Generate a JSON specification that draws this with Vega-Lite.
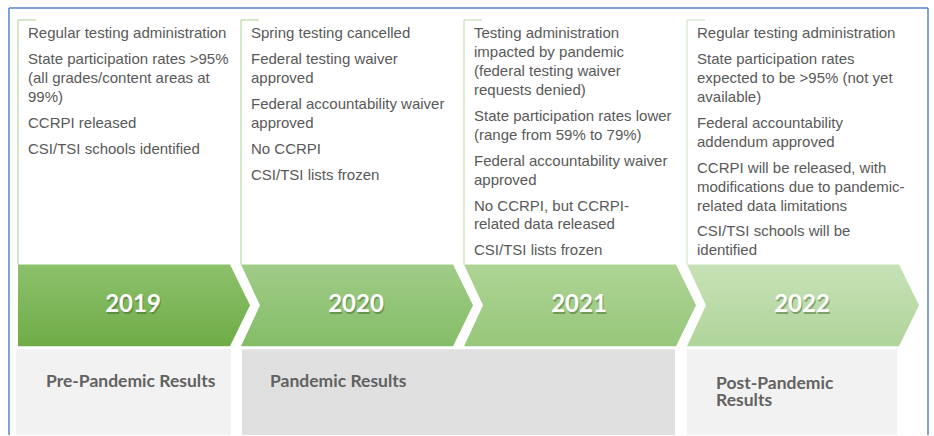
{
  "$schema": "https://vega.github.io/schema/vega-lite/v6.json",
  "width": 934,
  "height": 436,
  "autosize": {"type": "fit", "contains": "padding"},
  "padding": 0,
  "background": "white",
  "config": {"view": {"stroke": null}, "axis": {"disable": true}},
  "datasets": {
    "border": [
      {"x": 2018.9596, "x2": 2018.9596, "y": 8, "y2": 436},
      {"x": 2018.9596, "x2": 2023.0807, "y": 8, "y2": 8},
      {"x": 2023.0807, "x2": 2023.0807, "y": 8, "y2": 436}
    ],
    "boxes": [
      {"period": "pre", "x": 2018.991, "x2": 2019.955, "y": 350, "y2": 436},
      {"period": "pan", "x": 2020.0045, "x2": 2021.946, "y": 350, "y2": 436},
      {"period": "post", "x": 2022.0, "x2": 2022.942, "y": 350, "y2": 436}
    ],
    "chev": [
      {"year": "2019", "y": 265, "xl": 2019.0, "xr": 2019.9507},
      {"year": "2019", "y": 306, "xl": 2019.0, "xr": 2020.0404},
      {"year": "2019", "y": 347, "xl": 2019.0, "xr": 2019.9507},
      {"year": "2020", "y": 265, "xl": 2020.0, "xr": 2020.9507},
      {"year": "2020", "y": 306, "xl": 2020.0852, "xr": 2021.0404},
      {"year": "2020", "y": 347, "xl": 2020.0, "xr": 2020.9507},
      {"year": "2021", "y": 265, "xl": 2021.0, "xr": 2021.9507},
      {"year": "2021", "y": 306, "xl": 2021.0852, "xr": 2022.0404},
      {"year": "2021", "y": 347, "xl": 2021.0, "xr": 2021.9507},
      {"year": "2022", "y": 265, "xl": 2022.0, "xr": 2022.9507},
      {"year": "2022", "y": 306, "xl": 2022.0852, "xr": 2023.0404},
      {"year": "2022", "y": 347, "xl": 2022.0, "xr": 2022.9507}
    ],
    "frames": [
      {"year": "2019", "x": 2019.0, "x2": 2019.0, "y": 20, "y2": 265},
      {"year": "2019", "x": 2019.0, "x2": 2019.0807, "y": 20, "y2": 20},
      {"year": "2020", "x": 2020.0, "x2": 2020.0, "y": 20, "y2": 265},
      {"year": "2020", "x": 2020.0, "x2": 2020.0807, "y": 20, "y2": 20},
      {"year": "2021", "x": 2021.0, "x2": 2021.0, "y": 20, "y2": 265},
      {"year": "2021", "x": 2021.0, "x2": 2021.0807, "y": 20, "y2": 20},
      {"year": "2022", "x": 2022.0, "x2": 2022.0, "y": 20, "y2": 265},
      {"year": "2022", "x": 2022.0, "x2": 2022.0807, "y": 20, "y2": 20}
    ],
    "years": [
      {"year": "2019", "x": 2019.0, "y": 306},
      {"year": "2020", "x": 2020.0, "y": 306},
      {"year": "2021", "x": 2021.0, "y": 306},
      {"year": "2022", "x": 2022.0, "y": 306}
    ],
    "notes": [
      {"x": 2019, "y": 33, "text": "Regular testing administration"},
      {"x": 2019, "y": 59, "text": "State participation rates >95%"},
      {"x": 2019, "y": 78, "text": "(all grades/content areas at"},
      {"x": 2019, "y": 97, "text": "99%)"},
      {"x": 2019, "y": 123, "text": "CCRPI released"},
      {"x": 2019, "y": 149, "text": "CSI/TSI schools identified"},
      {"x": 2020, "y": 33, "text": "Spring testing cancelled"},
      {"x": 2020, "y": 59, "text": "Federal testing waiver"},
      {"x": 2020, "y": 78, "text": "approved"},
      {"x": 2020, "y": 104, "text": "Federal accountability waiver"},
      {"x": 2020, "y": 123, "text": "approved"},
      {"x": 2020, "y": 149, "text": "No CCRPI"},
      {"x": 2020, "y": 175, "text": "CSI/TSI lists frozen"},
      {"x": 2021, "y": 33, "text": "Testing administration"},
      {"x": 2021, "y": 52, "text": "impacted by pandemic"},
      {"x": 2021, "y": 71, "text": "(federal testing waiver"},
      {"x": 2021, "y": 90, "text": "requests denied)"},
      {"x": 2021, "y": 116, "text": "State participation rates lower"},
      {"x": 2021, "y": 135, "text": "(range from 59% to 79%)"},
      {"x": 2021, "y": 161, "text": "Federal accountability waiver"},
      {"x": 2021, "y": 180, "text": "approved"},
      {"x": 2021, "y": 206, "text": "No CCRPI, but CCRPI-"},
      {"x": 2021, "y": 225, "text": "related data released"},
      {"x": 2021, "y": 251, "text": "CSI/TSI lists frozen"},
      {"x": 2022, "y": 33, "text": "Regular testing administration"},
      {"x": 2022, "y": 59, "text": "State participation rates"},
      {"x": 2022, "y": 78, "text": "expected to be >95% (not yet"},
      {"x": 2022, "y": 97, "text": "available)"},
      {"x": 2022, "y": 123, "text": "Federal accountability"},
      {"x": 2022, "y": 142, "text": "addendum approved"},
      {"x": 2022, "y": 168, "text": "CCRPI will be released, with"},
      {"x": 2022, "y": 187, "text": "modifications due to pandemic-"},
      {"x": 2022, "y": 206, "text": "related data limitations"},
      {"x": 2022, "y": 232, "text": "CSI/TSI schools will be"},
      {"x": 2022, "y": 251, "text": "identified"}
    ],
    "periods": [
      {"x": 2018.9955, "y": 383, "text": "Pre-Pandemic Results"},
      {"x": 2020.0, "y": 383, "text": "Pandemic Results"},
      {"x": 2022.0, "y": 385, "text": "Post-Pandemic"},
      {"x": 2022.0, "y": 402, "text": "Results"}
    ]
  },
  "layer": [
    {
      "data": {"name": "boxes"},
      "mark": {"type": "rect"},
      "encoding": {
        "x": {"field": "x", "type": "quantitative", "scale": {"domain": [2018.91928, 2023.10762], "nice": false, "zero": false}, "axis": null},
        "x2": {"field": "x2"},
        "y": {"field": "y", "type": "quantitative", "scale": {"domain": [0, 436], "reverse": true, "nice": false, "zero": false}, "axis": null},
        "y2": {"field": "y2"},
        "color": {"field": "period", "type": "nominal", "scale": {"domain": ["pre", "pan", "post"], "range": ["#F2F2F2", "#E0E0E0", "#F2F2F2"]}, "legend": null}
      }
    },
    {
      "data": {"name": "border"},
      "mark": {"type": "rule", "color": "#5585CF", "strokeWidth": 1.5},
      "encoding": {
        "x": {"field": "x", "type": "quantitative"},
        "x2": {"field": "x2"},
        "y": {"field": "y", "type": "quantitative"},
        "y2": {"field": "y2"}
      }
    },
    {
      "data": {"name": "frames"},
      "mark": {"type": "rule", "strokeWidth": 1},
      "encoding": {
        "x": {"field": "x", "type": "quantitative"},
        "x2": {"field": "x2"},
        "y": {"field": "y", "type": "quantitative"},
        "y2": {"field": "y2"},
        "stroke": {"field": "year", "type": "nominal", "scale": {"domain": ["2019", "2020", "2021", "2022"], "range": ["#A9D18E", "#A9D18E", "#B9DBA3", "#C8E2B8"]}, "legend": null}
      }
    },
    {
      "data": {"name": "chev"},
      "transform": [{"filter": "datum.year === '2019'"}],
      "mark": {"type": "area", "orient": "horizontal", "color": {"gradient": "linear", "x1": 0, "y1": 0, "x2": 0, "y2": 1, "stops": [{"offset": 0, "color": "#8DC16C"}, {"offset": 1, "color": "#6FAC47"}]}},
      "encoding": {
        "y": {"field": "y", "type": "quantitative"},
        "x": {"field": "xl", "type": "quantitative"},
        "x2": {"field": "xr"}
      }
    },
    {
      "data": {"name": "chev"},
      "transform": [{"filter": "datum.year === '2020'"}],
      "mark": {"type": "area", "orient": "horizontal", "color": {"gradient": "linear", "x1": 0, "y1": 0, "x2": 0, "y2": 1, "stops": [{"offset": 0, "color": "#A0CC87"}, {"offset": 1, "color": "#84BD67"}]}},
      "encoding": {
        "y": {"field": "y", "type": "quantitative"},
        "x": {"field": "xl", "type": "quantitative"},
        "x2": {"field": "xr"}
      }
    },
    {
      "data": {"name": "chev"},
      "transform": [{"filter": "datum.year === '2021'"}],
      "mark": {"type": "area", "orient": "horizontal", "color": {"gradient": "linear", "x1": 0, "y1": 0, "x2": 0, "y2": 1, "stops": [{"offset": 0, "color": "#AED494"}, {"offset": 1, "color": "#96C77A"}]}},
      "encoding": {
        "y": {"field": "y", "type": "quantitative"},
        "x": {"field": "xl", "type": "quantitative"},
        "x2": {"field": "xr"}
      }
    },
    {
      "data": {"name": "chev"},
      "transform": [{"filter": "datum.year === '2022'"}],
      "mark": {"type": "area", "orient": "horizontal", "color": {"gradient": "linear", "x1": 0, "y1": 0, "x2": 0, "y2": 1, "stops": [{"offset": 0, "color": "#C7E2B6"}, {"offset": 1, "color": "#AFD49A"}]}},
      "encoding": {
        "y": {"field": "y", "type": "quantitative"},
        "x": {"field": "xl", "type": "quantitative"},
        "x2": {"field": "xr"}
      }
    },
    {
      "data": {"name": "years"},
      "mark": {"type": "text", "font": "Lato", "fontWeight": "bold", "fontSize": 24, "align": "center", "baseline": "middle", "dx": 116, "dy": 2, "color": "#3C5A28", "opacity": 0.45},
      "encoding": {
        "x": {"field": "x", "type": "quantitative"},
        "y": {"field": "y", "type": "quantitative"},
        "text": {"field": "year"}
      }
    },
    {
      "data": {"name": "years"},
      "mark": {"type": "text", "font": "Lato", "fontWeight": "bold", "fontSize": 24, "align": "center", "baseline": "middle", "dx": 115, "color": "white"},
      "encoding": {
        "x": {"field": "x", "type": "quantitative"},
        "y": {"field": "y", "type": "quantitative"},
        "text": {"field": "year"}
      }
    },
    {
      "data": {"name": "notes"},
      "mark": {"type": "text", "font": "Liberation Sans", "fontSize": 15, "align": "left", "baseline": "middle", "dx": 10, "color": "#595959"},
      "encoding": {
        "x": {"field": "x", "type": "quantitative"},
        "y": {"field": "y", "type": "quantitative"},
        "text": {"field": "text"}
      }
    },
    {
      "data": {"name": "periods"},
      "mark": {"type": "text", "font": "Lato", "fontWeight": "bold", "fontSize": 17.5, "align": "left", "baseline": "middle", "dx": 29, "color": "#626262"},
      "encoding": {
        "x": {"field": "x", "type": "quantitative"},
        "y": {"field": "y", "type": "quantitative"},
        "text": {"field": "text"}
      }
    }
  ]
}
